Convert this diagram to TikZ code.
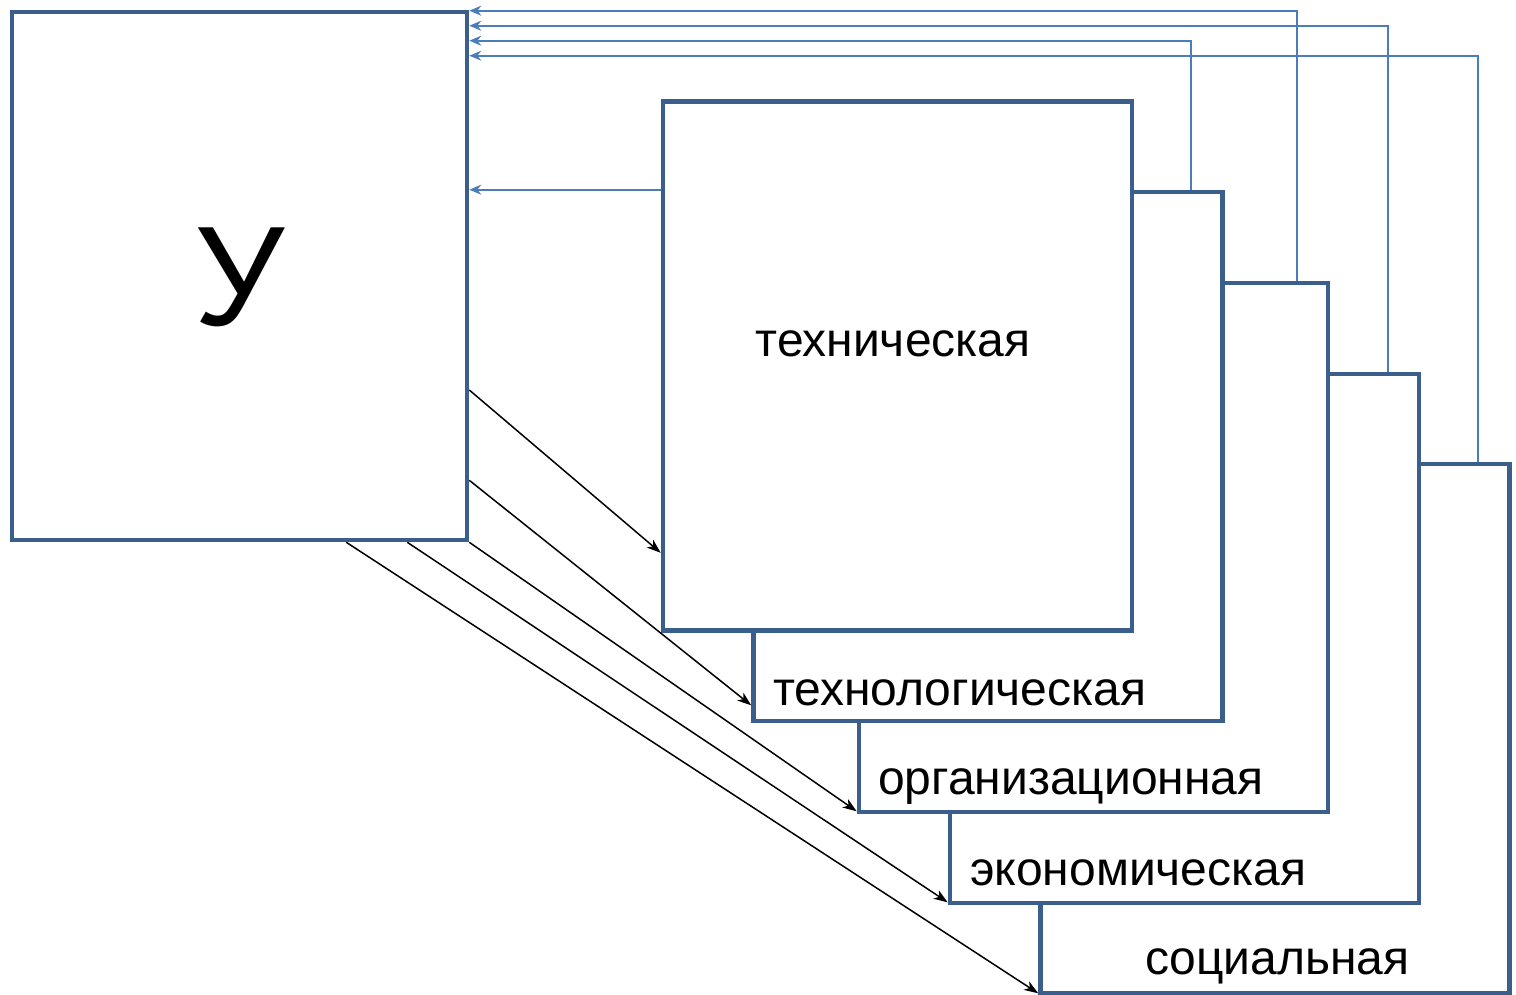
\documentclass[tikz,border=0pt]{standalone}
\usepackage{fontspec}
\setmainfont{Liberation Sans}
\usetikzlibrary{arrows.meta}
\definecolor{boxblue}{RGB}{58,95,140}
\definecolor{linkblue}{RGB}{74,126,187}
\tikzset{
  box/.style={draw=boxblue, line width=4.6pt, fill=white, minimum width=469pt, minimum height=529pt, inner sep=0pt},
  lbl/.style={inner sep=0pt, font=\fontsize{48}{56}\selectfont},
  fb/.style={draw=linkblue, line width=2pt, -{Stealth[length=12pt,width=10pt,inset=4pt]}},
  fwd/.style={line width=1.5pt, -{Stealth[length=14pt,width=10pt,inset=4pt]}}
}
\begin{document}
\begin{tikzpicture}[x=1pt,y=-1pt]
\useasboundingbox (0,0) rectangle (1516,994);
\node[box, minimum width=455pt, minimum height=528pt] (U) at (239.5,276) {};
\node[inner sep=0pt, font=\fontsize{142}{150}\selectfont, anchor=base] (Ulbl) at (240,325) {У};

\foreach \n/\x/\y in {soc/1275/728.5, econ/1184.5/638.5, org/1093.5/547.5, techn/988/456.5, tech/897.5/366}
  {\node[box] (\n) at (\x,\y) {};}

\node[lbl, anchor=base] (techlbl) at (893,356) {техническая};
\node[lbl, anchor=base west] (technlbl) at (773,705) {технологическая};
\node[lbl, anchor=base west] (orglbl) at (878,794) {организационная};
\node[lbl, anchor=base west] (econlbl) at (970,885) {экономическая};
\node[lbl, anchor=base west] (soclbl) at (1145,974) {социальная};

% back links
\draw[fb] (tech.west |- techn.north) -- (U.east |- techn.north);
\draw[fb] ([xshift=203pt]techn.north) |- ([yshift=-31pt]U.north east);
\draw[fb] ([xshift=203pt]org.north) |- ([yshift=-1pt]U.north east);
\draw[fb] ([xshift=203pt]econ.north) |- ([yshift=-16pt]U.north east);
\draw[fb] ([xshift=203pt]soc.north) |- ([yshift=-46pt]U.north east);

% forward links
\draw[fwd] ([yshift=-114pt]U.east) -- ([yshift=80pt]tech.south west);
\draw[fwd] ([yshift=62pt]U.south east) -- ([yshift=18pt]techn.south west);
\draw[fwd] (U.south east) -- ([yshift=3pt]org.south west);
\draw[fwd] ([xshift=-62pt]U.south east) -- ([yshift=3pt]econ.south west);
\draw[fwd] ([xshift=-123pt]U.south east) -- ([yshift=2pt]soc.south west);
\end{tikzpicture}
\end{document}
